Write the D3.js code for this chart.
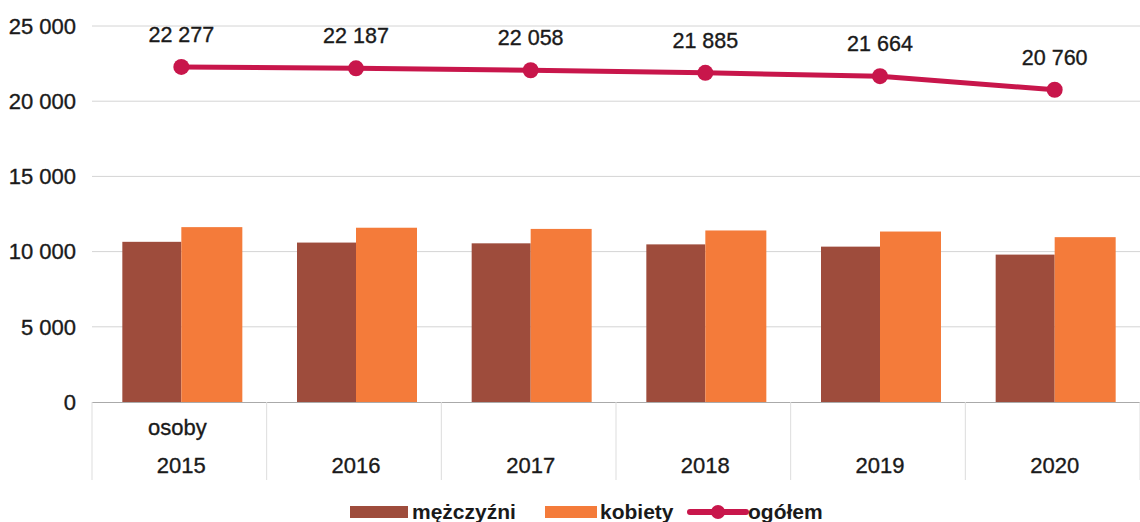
<!DOCTYPE html>
<html><head><meta charset="utf-8">
<script src="https://cdn.jsdelivr.net/npm/d3@7"></script>
<style>body{margin:0;background:#fff}svg{display:block}text{font-family:"Liberation Sans",Arial,sans-serif;fill:#1a1a1a;stroke:#1a1a1a;stroke-width:0.35px}</style>
</head><body><svg id="c" width="1140" height="522"></svg>
<script>
const years = ["2015","2016","2017","2018","2019","2020"];
const men = [10650, 10600, 10550, 10480, 10330, 9800];
const women = [11627, 11587, 11508, 11405, 11334, 10960];
const total = [22277, 22187, 22058, 21885, 21664, 20760];
const yTicks = [0, 5000, 10000, 15000, 20000, 25000];
const seriesNames = ["mężczyźni", "kobiety", "ogółem"];
const colors = {men:"#9E4C3C", women:"#F47B3A", total:"#C8164B"};

const svg = d3.select("#c");
const pLeft = 92, pRight = 1140, pTop = 26, pBottom = 402;
const x = d3.scaleBand().domain(years).range([pLeft, pRight]).paddingInner(0).paddingOuter(0);
const y = d3.scaleLinear().domain([0, 25000]).range([pBottom, pTop]);
const fmt = v => d3.format(",")(v).replace(/,/g, " ");

// gridlines
svg.append("g").selectAll("line").data(yTicks.slice(1)).join("line")
  .attr("x1", pLeft).attr("x2", pRight).attr("y1", d => y(d)).attr("y2", d => y(d))
  .attr("stroke", "#d4d4d4").attr("stroke-width", 1);
// y labels
svg.append("g").selectAll("text").data(yTicks).join("text")
  .attr("x", 76).attr("y", d => y(d)).attr("dy", "0.35em").attr("text-anchor", "end")
  .attr("font-size", 22).text(d => fmt(d));

// bars
const bw = 59;
const g = svg.append("g");
g.selectAll("rect.m").data(years).join("rect").attr("class","m")
  .attr("x", d => x(d) + x.bandwidth()/2 - bw + 2).attr("width", bw)
  .attr("y", (d,i) => y(men[i])).attr("height", (d,i) => y(0) - y(men[i]))
  .attr("fill", colors.men);
g.selectAll("rect.w").data(years).join("rect").attr("class","w")
  .attr("x", d => x(d) + x.bandwidth()/2 + 2).attr("width", bw + 2)
  .attr("y", (d,i) => y(women[i])).attr("height", (d,i) => y(0) - y(women[i]))
  .attr("fill", colors.women);

// axis / table lines
svg.append("line").attr("x1", pLeft).attr("x2", pRight).attr("y1", pBottom+0.5).attr("y2", pBottom+0.5)
  .attr("stroke", "#aaa").attr("stroke-width", 1);
svg.append("g").selectAll("line").data(years.concat(["end"])).join("line")
  .attr("x1", (d,i) => pLeft + i * x.bandwidth()).attr("x2", (d,i) => pLeft + i * x.bandwidth())
  .attr("y1", pBottom).attr("y2", 480).attr("stroke", "#ddd");
svg.append("text").attr("x", x(years[0]) + x.bandwidth()/2 - 2).attr("y", 435)
  .attr("text-anchor","middle").attr("font-size", 22).text("osoby");
svg.append("g").selectAll("text").data(years).join("text")
  .attr("x", d => x(d) + x.bandwidth()/2 + 2).attr("y", 473)
  .attr("text-anchor","middle").attr("font-size", 22).text(d => d);

// line
const cx = d => x(d) + x.bandwidth()/2 + 2;
const line = d3.line().x((d,i) => cx(years[i])).y(d => y(d));
svg.append("path").datum(total).attr("d", line).attr("fill","none")
  .attr("stroke", colors.total).attr("stroke-width", 5).attr("stroke-linejoin","round");
svg.append("g").selectAll("circle").data(total).join("circle")
  .attr("cx", (d,i) => cx(years[i])).attr("cy", d => y(d)).attr("r", 8).attr("fill", colors.total);
svg.append("g").selectAll("text").data(total).join("text")
  .attr("x", (d,i) => cx(years[i])).attr("y", d => y(d) - 25)
  .attr("text-anchor","middle").attr("font-size", 21.5).text(d => fmt(d));

// legend
const lg = svg.append("g");
lg.append("rect").attr("x", 350).attr("y", 506).attr("width", 58).attr("height", 12).attr("fill", colors.men);
lg.append("text").attr("x", 412).attr("y", 519).attr("font-size", 21).attr("font-weight","bold").style("stroke-width","0").text(seriesNames[0]);
lg.append("rect").attr("x", 545).attr("y", 506).attr("width", 52).attr("height", 12).attr("fill", colors.women);
lg.append("text").attr("x", 600).attr("y", 519).attr("font-size", 21).attr("font-weight","bold").style("stroke-width","0").text(seriesNames[1]);
lg.append("line").attr("x1", 690).attr("x2", 746).attr("y1", 512).attr("y2", 512).attr("stroke", colors.total).attr("stroke-width", 6).attr("stroke-linecap","round");
lg.append("circle").attr("cx", 718).attr("cy", 512).attr("r", 7).attr("fill", colors.total);
lg.append("text").attr("x", 748).attr("y", 519).attr("font-size", 21).attr("font-weight","bold").style("stroke-width","0").text(seriesNames[2]);
</script></body></html>
